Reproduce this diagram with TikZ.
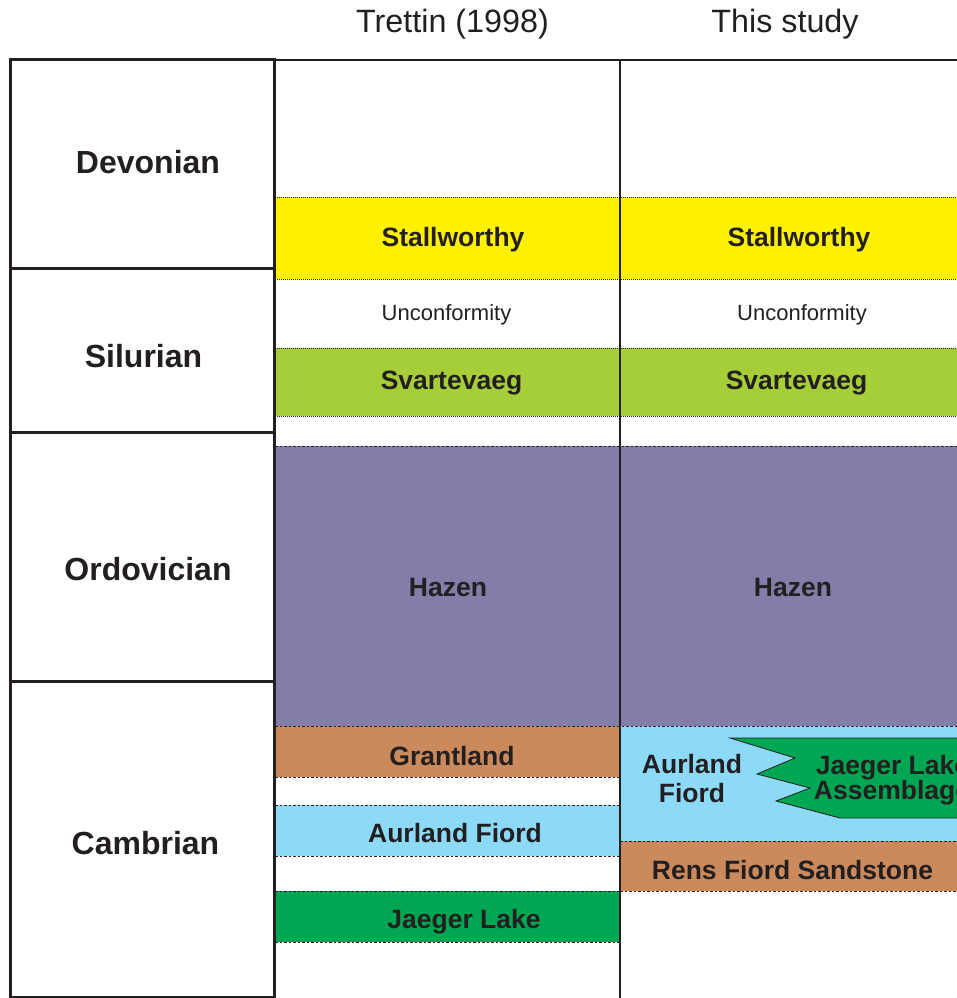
\documentclass[tikz,border=0pt]{standalone}
\usepackage{fontspec}
\setmainfont{Liberation Sans}
\definecolor{ink}{HTML}{231F20}
\definecolor{stallc}{HTML}{FFF100}
\definecolor{svartc}{HTML}{A6CE39}
\definecolor{hazenc}{HTML}{837DA9}
\definecolor{brownc}{HTML}{CB8A5C}
\definecolor{bluec}{HTML}{8DD9F8}
\definecolor{greenc}{HTML}{00A651}
\tikzset{
  period/.style={text=ink, font=\fontsize{32}{35}\selectfont\bfseries, anchor=base, inner sep=0pt},
  unit/.style={text=ink, font=\fontsize{26.5}{29}\selectfont\bfseries, anchor=base, inner sep=0pt},
  thin label/.style={text=ink, font=\fontsize{22}{24}\selectfont, anchor=base, inner sep=0pt},
  heading/.style={text=ink, font=\fontsize{32.3}{35}\selectfont, anchor=base, inner sep=0pt},
  finedots/.style={draw=ink, line width=0.8pt, dash pattern=on 1pt off 1pt},
  dashline/.style={draw=ink, line width=1pt, dash pattern=on 2.5pt off 2pt},
  frame/.style={draw=ink, line width=3pt},
}
\begin{document}
\begin{tikzpicture}[x=1pt, y=-1pt]
\useasboundingbox (0,0) rectangle (957,998);

% ---- formation bands, Trettin (1998) column ----
\fill[stallc] (275,197) rectangle (620,279);
\fill[svartc] (275,348) rectangle (620,416);
\fill[hazenc] (275,446) rectangle (620,726);
\fill[brownc] (275,726) rectangle (620,777);
\fill[bluec]  (275,805) rectangle (620,856);
\fill[greenc] (275,891) rectangle (620,942);

% ---- formation bands, this study column ----
\fill[stallc] (620,197) rectangle (957,279);
\fill[svartc] (620,348) rectangle (957,416);
\fill[hazenc] (620,446) rectangle (957,726);
\fill[bluec]  (620,726) rectangle (957,841);
\fill[brownc] (620,841) rectangle (957,891);

% interfingering Jaeger Lake Assemblage wedge
\filldraw[fill=greenc, draw=ink, line width=0.8pt]
  (957,738) -- (730,738) -- (795,758) -- (757,774) -- (810,788)
  -- (776,801) -- (840,818) -- (957,818);

% ---- band boundaries ----
\foreach \y in {197,279,348,416}
  \draw[finedots] (275,\y) -- (957,\y);
\draw[dashline] (275,446) -- (957,446);
\draw[dashline] (275,726) -- (957,726);
\foreach \y in {777,805,856,891,942}
  \draw[dashline] (275,\y) -- (620,\y);
\draw[dashline] (620,841) -- (957,841);
\draw[dashline] (620,891) -- (957,891);

% ---- column frame ----
\draw[draw=ink, line width=1.5pt] (274,60) -- (957,60);
\draw[draw=ink, line width=1.8pt] (620,60) -- (620,998);
\draw[frame] (10,60) rectangle (274.5,997);
\foreach \y in {268,432,681}
  \draw[frame] (10,\y) -- (274.5,\y);

% ---- headings ----
\node[heading] (hTrettin) at (452.5,33) {Trettin (1998)};
\node[heading] (hStudy) at (785,33) {This study};

% ---- periods ----
\node[period] (pDev) at (148,173) {Devonian};
\node[period] (pSil) at (143.5,367) {Silurian};
\node[period] (pOrd) at (148,580) {Ordovician};
\node[period] (pCam) at (145.5,854) {Cambrian};

% ---- units, Trettin (1998) ----
\node[unit] (lStall) at (453,246) {Stallworthy};
\node[thin label] (lUnc) at (446.5,320) {Unconformity};
\node[unit] (lSvart) at (451.5,389) {Svartevaeg};
\node[unit] (lHazen) at (448,596.5) {Hazen};
\node[unit] (lGrant) at (452,765) {Grantland};
\node[unit] (lAurl) at (455,842) {Aurland Fiord};
\node[unit] (lJaeg) at (464,928) {Jaeger Lake};

% ---- units, this study ----
\node[unit] (rStall) at (799,246) {Stallworthy};
\node[thin label] (rUnc) at (802,320) {Unconformity};
\node[unit] (rSvart) at (796.5,389) {Svartevaeg};
\node[unit] (rHazen) at (793,596.5) {Hazen};
\node[unit] (rAurlA) at (692,773) {Aurland};
\node[unit] (rAurlB) at (692,802.5) {Fiord};
\node[unit] (rRens) at (792.5,879.5) {Rens Fiord Sandstone};
\begin{scope}
  \clip (620,60) rectangle (957,998);
  \node[unit] (rJaegA) at (892.5,774) {Jaeger Lake};
  \node[unit] (rJaegB) at (892,799.5) {Assemblage};
\end{scope}
\end{tikzpicture}
\end{document}
